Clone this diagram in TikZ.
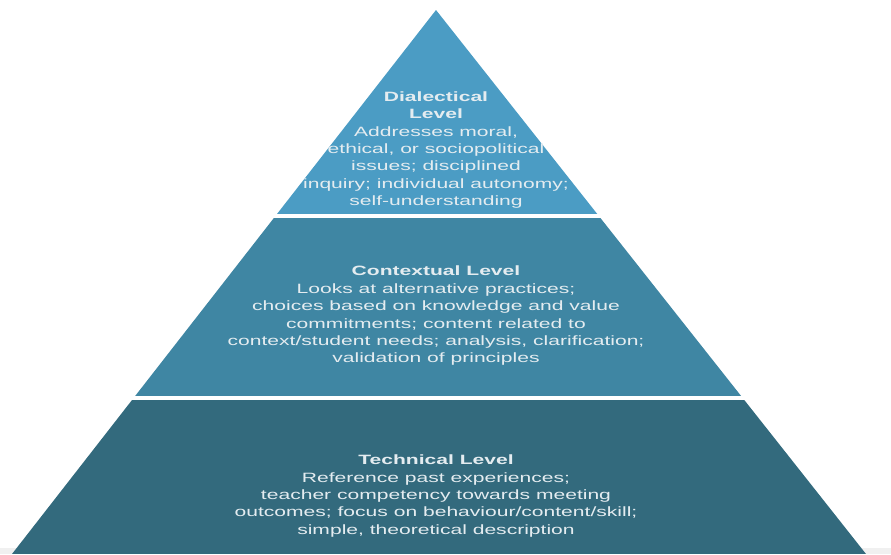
\documentclass[tikz,border=0pt]{standalone}
\usepackage{fontspec}
\setmainfont{Liberation Sans}[FakeStretch=1.56]
\usepackage{xcolor}
\usepackage{tikz}
\definecolor{dialblue}{HTML}{4B9CC4}
\definecolor{contblue}{HTML}{3F86A3}
\definecolor{techblue}{HTML}{336A7D}
\definecolor{tiertext}{HTML}{E4ECF0}

\begin{document}
\begin{tikzpicture}[
    x=1pt, y=-1pt,
    tier/.style={draw=none},
    tierlabel/.style={text=tiertext, align=center, inner sep=0pt, font=\fontsize{13.5}{17.4}\selectfont}
]
\useasboundingbox (0,0) rectangle (891,554);
\fill[gray!12] (0,548) rectangle (891,554);

\begin{scope}
\clip (436,10) -- (12,554) -- (866,554) -- cycle;
\fill[tier, dialblue] (0,0) rectangle (891,214);
\fill[tier, contblue] (0,218) rectangle (891,396);
\fill[tier, techblue] (0,400) rectangle (891,554);
\end{scope}

\node[tierlabel] (dialectical) at (436,150) {\textbf{Dialectical}\\\textbf{Level}\\Addresses moral,\\ethical, or sociopolitical\\issues; disciplined\\inquiry; individual autonomy;\\self-understanding};
\node[tierlabel] (contextual) at (436,316) {\textbf{Contextual Level}\\Looks at alternative practices;\\choices based on knowledge and value\\commitments; content related to\\context/student needs; analysis, clarification;\\validation of principles};
\node[tierlabel] (technical) at (436,496) {\textbf{Technical Level}\\Reference past experiences;\\teacher competency towards meeting\\outcomes; focus on behaviour/content/skill;\\simple, theoretical description};
\end{tikzpicture}
\end{document}
